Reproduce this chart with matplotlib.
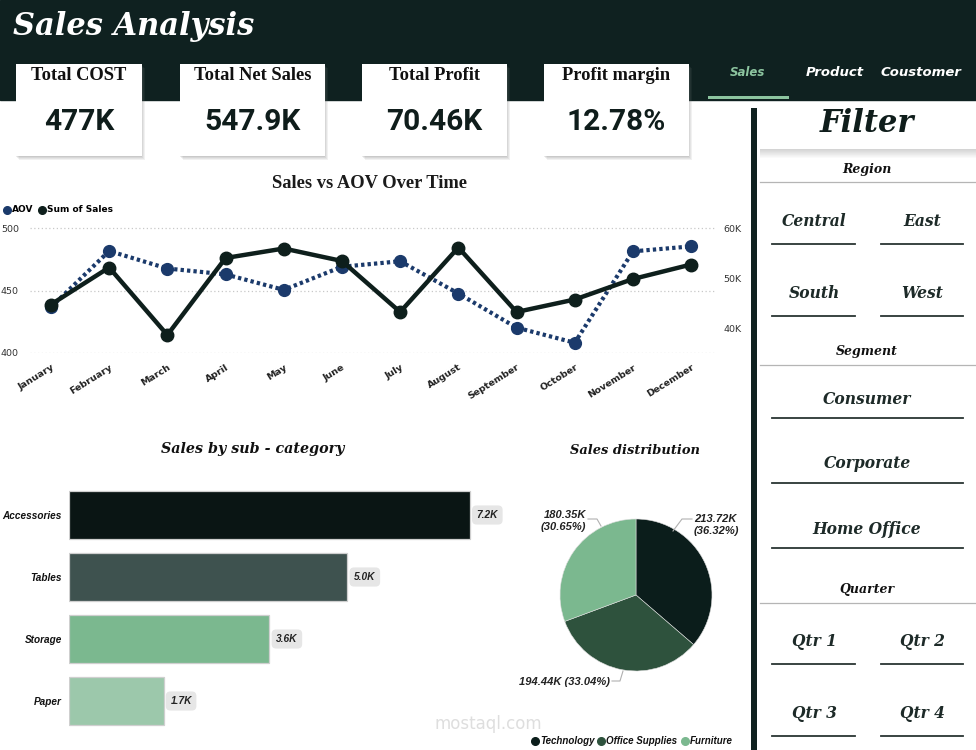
import matplotlib
matplotlib.use('Agg')
import matplotlib.pyplot as plt
from matplotlib.patches import Rectangle
import numpy as np

# ---------------- data ----------------
kpi_labels = ['Total COST', 'Total Net Sales', 'Total Profit', 'Profit margin']
kpi_values = ['477K', '547.9K', '70.46K', '12.78%']
tabs = ['Sales', 'Product', 'Coustomer']
months = ['January', 'February', 'March', 'April', 'May', 'June', 'July',
          'August', 'September', 'October', 'November', 'December']
aov = [436.6, 481.6, 467.6, 462.9, 450.5, 469.0, 473.4, 447.6, 420.3, 408.2, 481.3, 485.3]
sales = [44700, 52100, 38600, 54000, 55900, 53400, 43200, 56100, 43200, 45700, 49800, 52700]
aov_ticks = [400, 450, 500]
sales_ticks = [40000, 50000, 60000]
sales_tick_labels = ['40K', '50K', '60K']
subcats = ['Accessories', 'Tables', 'Storage', 'Paper']
subcat_sales = [7.2, 5.0, 3.6, 1.7]   # thousands
subcat_labels = ['7.2K', '5.0K', '3.6K', '1.7K']
pie_cats = ['Technology', 'Office Supplies', 'Furniture']
pie_vals = [213.72, 194.44, 180.35]     # thousands
regions = ['Central', 'East', 'South', 'West']
segments = ['Consumer', 'Corporate', 'Home Office']
quarters = ['Qtr 1', 'Qtr 2', 'Qtr 3', 'Qtr 4']

# ---------------- style ----------------
W, H = 976, 750
DARK = '#0f2120'
LINE_DARK = '#0e1f1c'
NAVY = '#1b3a6b'
GREEN_TAB = '#8cc49f'
bar_colors = ['#0a1514', '#3e524f', '#7bb88f', '#9cc8ab']
pie_colors = ['#0b1d1b', '#2e523d', '#7bb88f']
SERIF = ['DejaVu Serif']
LSERIF = ['Liberation Serif', 'DejaVu Serif']
VALFONT = ['Roboto', 'DejaVu Sans']
SANS = ['DejaVu Sans']
LSANS = ['Liberation Sans', 'DejaVu Sans']

fig = plt.figure(figsize=(W / 100, H / 100), dpi=100)
fig.patch.set_facecolor('white')


def rect(x0, y0, x1, y1):
    return [x0 / W, 1 - y1 / H, (x1 - x0) / W, (y1 - y0) / H]


bg = fig.add_axes([0, 0, 1, 1])
bg.set_xlim(0, W)
bg.set_ylim(H, 0)
bg.axis('off')

# header band
bg.add_patch(Rectangle((0, 0), W, 100, color=DARK, zorder=1))
bg.text(13, 27, 'Sales Analysis', color='white', fontsize=22, fontweight='bold',
        style='italic', family=SERIF, va='center', ha='left', zorder=3)

# KPI cards
card_x = [(16, 142), (180, 325), (362, 507), (544, 689)]
for (x0, x1), lab, val in zip(card_x, kpi_labels, kpi_values):
    for k, a in enumerate([0.10, 0.10, 0.12, 0.15]):
        off = 4 - k
        bg.add_patch(Rectangle((x0 + off - 1, 64 + off), x1 - x0, 156 - 64,
                               color='#7a7a7a', alpha=a, lw=0, zorder=2))
    bg.add_patch(Rectangle((x0, 64), x1 - x0, 156 - 64, color='white', lw=0, zorder=3))
    bg.text((x0 + x1) / 2, 76, lab, fontsize=13.3, family=LSERIF, fontweight='bold',
            color='#111', ha='center', va='center', zorder=4)
    bg.text((x0 + x1) / 2, 122, val, fontsize=21.5, family=VALFONT, fontweight='bold',
            color='#0f1d1b', ha='center', va='center', zorder=4)

# tabs
tab_x = [748, 835, 921]
for t, tx in zip(tabs, tab_x):
    bg.text(tx, 72, t, fontsize=8.5 if t == 'Sales' else 9.5, fontweight='bold', style='italic',
            color=GREEN_TAB if t == 'Sales' else 'white', family=SANS,
            ha='center', va='center', zorder=4)
bg.add_patch(Rectangle((708, 95.5), 81, 3, color=GREEN_TAB, lw=0, zorder=4))

# vertical divider
bg.add_patch(Rectangle((751, 108), 6, H - 108, color=DARK, lw=0, zorder=4))

# Filter panel
for k in range(10):
    bg.add_patch(Rectangle((760, 148 + k), W - 760, 1.2, color='#555', alpha=0.28 * (1 - k / 10),
                           lw=0, zorder=2))
bg.add_patch(Rectangle((760, 102), W - 760, 47, color='white', lw=0, zorder=3))
bg.text(867, 123, 'Filter', fontsize=22, fontweight='bold', style='italic', family=SERIF,
        color='#0f1d1b', ha='center', va='center', zorder=4)

item_kw = dict(fontsize=11.2, fontweight='bold', style='italic', family=SERIF,
               color='#1d2a28', ha='center', va='center', zorder=4)
head_kw = dict(fontsize=9, fontweight='bold', style='italic', family=SERIF,
               color='#111', ha='center', va='center', zorder=4)


def section(label, y, yline):
    bg.text(867, y, label, **head_kw)
    bg.plot([760, W], [yline, yline], color='#b5b5b5', lw=0.9, zorder=4)


def item(label, x, y, yline, x0, x1):
    bg.text(x, y, label, **item_kw)
    bg.plot([x0, x1], [yline, yline], color='#2a3533', lw=1.3, zorder=4)


section('Region', 169, 182)
item(regions[0], 814, 222, 243.5, 772, 855)
item(regions[1], 922, 222, 243.5, 881, 963)
item(regions[2], 814, 294, 316, 772, 855)
item(regions[3], 922, 294, 316, 881, 963)
section('Segment', 351, 364.5)
item(segments[0], 867, 400, 418, 772, 963)
item(segments[1], 867, 464, 483, 772, 963)
item(segments[2], 867, 529, 547.5, 772, 963)
section('Quarter', 589, 602.5)
item(quarters[0], 814, 641, 663.5, 772, 855)
item(quarters[1], 922, 641, 663.5, 881, 963)
item(quarters[2], 814, 714, 736, 772, 855)
item(quarters[3], 922, 714, 736, 881, 963)

# ---------------- line chart ----------------
bg.text(370, 184, 'Sales vs AOV Over Time', fontsize=13.3, fontweight='bold', family=LSERIF,
        color='#1b1b1b', ha='center', va='center', zorder=4)
bg.plot([7], [210], 'o', color=NAVY, ms=5.5, zorder=4)
bg.text(12, 210, 'AOV', fontsize=6.5, fontweight='bold', family=SANS, va='center', zorder=4)
bg.plot([42], [210], 'o', color=LINE_DARK, ms=5.5, zorder=4)
bg.text(47, 210, 'Sum of Sales', fontsize=6.5, fontweight='bold', family=SANS, va='center', zorder=4)

x = np.arange(len(months))
ax1 = fig.add_axes(rect(30, 220.5, 715, 353))
ax1.set_xlim(-0.36, 11.41)
ax1.set_ylim(400, 506)
ax1.set_facecolor('none')
for s in ax1.spines.values():
    s.set_visible(False)
ax1.set_yticks(aov_ticks)
ax1.yaxis.grid(True, ls=(0, (1, 2)), color='#c8c8c8', lw=0.9)
ax1.set_axisbelow(True)
ax1.tick_params(axis='y', length=0, pad=8, labelsize=6.8, labelcolor='#333')
ax1.set_xticks(x)
ax1.set_xticklabels(months, rotation=32, ha='right', rotation_mode='anchor',
                    fontsize=6.8, fontweight='bold', color='#222')
ax1.tick_params(axis='x', length=0, pad=7)
ax1.plot(x, aov, color=NAVY, lw=3, ls=(0, (0.8, 0.75)), dash_capstyle='butt',
         marker='o', ms=8.5, zorder=3)

ax2 = ax1.twinx()
ax2.set_ylim(35000, 61500)
for s in ax2.spines.values():
    s.set_visible(False)
ax2.set_yticks(sales_ticks)
ax2.set_yticklabels(sales_tick_labels)
ax2.tick_params(axis='y', length=0, pad=6, labelsize=6.8, labelcolor='#333')
ax2.plot(x, sales, color=LINE_DARK, lw=3.2, marker='o', ms=9, solid_joinstyle='miter', zorder=4)

# ---------------- bar chart ----------------
bg.text(253, 449, 'Sales by sub - category', fontsize=10.3, fontweight='bold', style='italic',
        family=SERIF, color='#111', ha='center', va='center', zorder=4)
ax3 = fig.add_axes(rect(69, 484, 520, 732))
yy = np.arange(len(subcats))
ax3.barh(yy, subcat_sales, height=0.76, color=bar_colors, edgecolor='#cfcfcf', lw=0.9)
ax3.set_xlim(0, 8.1)
ax3.set_ylim(3.5, -0.5)
for s in ax3.spines.values():
    s.set_visible(False)
ax3.set_xticks([])
ax3.set_yticks(yy)
ax3.set_yticklabels(subcats, fontsize=7.2, fontweight='bold', style='italic', color='#111',
                    family=LSANS)
ax3.tick_params(axis='y', length=0, pad=5)
ax3.set_facecolor('none')
for i, (v, lab) in enumerate(zip(subcat_sales, subcat_labels)):
    ax3.text(v + 0.12, i, lab, va='center', ha='left', fontsize=7.3, fontweight='bold',
             style='italic', color='#222', family=LSANS,
             bbox=dict(boxstyle='round,pad=0.45', fc='#e6e6e6', ec='none'))

# watermark
bg.text(488, 724, 'mostaql.com', fontsize=12, color='#dedede', ha='center', va='center', zorder=2)

# ---------------- pie chart ----------------
bg.text(635, 450, 'Sales distribution', fontsize=9.4, fontweight='bold', style='italic',
        family=SERIF, color='#111', ha='center', va='center', zorder=4)
cx, cy, R = 636, 595, 76
axp = fig.add_axes(rect(cx - 130, cy - 130, cx + 130, cy + 130))
axp.pie(pie_vals, colors=pie_colors, startangle=90, counterclock=False, radius=1,
        wedgeprops=dict(edgecolor='#dddddd', linewidth=0.4))
lim = 130 / R
axp.set_xlim(-lim, lim)
axp.set_ylim(-lim, lim)
axp.set_aspect('equal')
axp.axis('off')


def P(px, py):
    return ((px - cx) / R, (cy - py) / R)


total = sum(pie_vals)
pct = [v / total * 100 for v in pie_vals]
lab_kw = dict(fontsize=8, fontweight='bold', style='italic', color='#222', family=LSANS)
axp.text(*P(694, 525), f'{pie_vals[0]:.2f}K\n({pct[0]:.2f}%)', ha='left', va='center',
         linespacing=1.3, **lab_kw)
axp.text(*P(586, 521), f'{pie_vals[2]:.2f}K\n({pct[2]:.2f}%)', ha='right', va='center',
         linespacing=1.3, **lab_kw)
axp.text(*P(610, 682), f'{pie_vals[1]:.2f}K ({pct[1]:.2f}%)', ha='right', va='center', **lab_kw)
for pts in ([(692, 519), (682, 519), (673, 531)],
            [(588, 519), (597, 519), (601, 526)],
            [(612, 681), (620, 681), (623, 671)]):
    xs, ys = zip(*[P(*p) for p in pts])
    axp.plot(xs, ys, color='#b0b0b0', lw=0.8)

# pie legend
leg_items = [(532, pie_cats[0]), (598, pie_cats[1]), (682, pie_cats[2])]
for (lx, name), col in zip(leg_items, pie_colors):
    bg.plot([lx + 3], [741], 'o', color=col, ms=5.5, zorder=4)
    bg.text(lx + 8, 741, name, fontsize=7, fontweight='bold', style='italic',
            family=LSANS, color='#111', va='center', zorder=4)

fig.savefig('out.png', dpi=100, facecolor='white')
